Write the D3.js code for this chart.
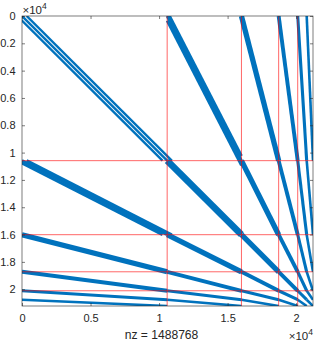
<!DOCTYPE html>
<html>
<head>
<meta charset="utf-8">
<script src="https://cdn.jsdelivr.net/npm/d3@7"></script>
<style>
  body { margin: 0; background: #fff; }
  svg { display: block; }
  text { font-family: 'Liberation Sans', Arial, Helvetica, sans-serif; fill: #262626; }
</style>
</head>
<body>
<svg width="314" height="341"></svg>
<script>
// block partition of the matrix (row/column index where each block starts), last = n
const blockEdges = [0, 10590, 16010, 18725, 20115, 20770, 21230];
// red separators drawn over the pattern
const partitionLines = [10590, 16010, 18725, 20115];
// side bands of the fine block, as index offsets from the stretched diagonal
const bandOffsets = [-340, 0, 340];
const xTicks = [0, 5000, 10000, 15000, 20000];
const xTickLabels = ['0', '0.5', '1', '1.5', '2'];
const yTicks = [0, 2000, 4000, 6000, 8000, 10000, 12000, 14000, 16000, 18000, 20000];
const yTickLabels = ['0', '0.2', '0.4', '0.6', '0.8', '1', '1.2', '1.4', '1.6', '1.8', '2'];
const nz = 1488768;

const svg = d3.select('svg');
const n = blockEdges[blockEdges.length - 1];

const x = d3.scaleLinear().domain([0, n]).range([22, 313]);
const y = d3.scaleLinear().domain([0, n]).range([16, 306]);

// band thickness (px) by coarsest level touched
const levelWidth = [2.4, 6.6, 5.3, 3.9, 3.1, 2.6];

svg.append('clipPath').attr('id', 'plot')
  .append('rect')
    .attr('x', x(0)).attr('y', y(0))
    .attr('width', x(n) - x(0)).attr('height', y(n) - y(0));

const segs = [];
for (let i = 0; i < blockEdges.length - 1; i++) {
  for (let j = 0; j < blockEdges.length - 1; j++) {
    const r0 = blockEdges[i], r1 = blockEdges[i + 1];
    const c0 = blockEdges[j], c1 = blockEdges[j + 1];
    if (i === 0 && j === 0) {
      bandOffsets.forEach(d => segs.push({ c0: c0 + d, r0, c1: c1 + d, r1, w: 2.4 }));
    } else if (i === 1 && j === 0) {
      // shift along columns
      bandOffsets.forEach(d => segs.push({ c0: c0 + d, r0, c1: c1 + d, r1, w: 2.9 }));
    } else if (i === 0 && j === 1) {
      // shift along rows
      bandOffsets.forEach(d => segs.push({ c0, r0: r0 + d, c1, r1: r1 + d, w: 2.9 }));
    } else {
      segs.push({ c0, r0, c1, r1, w: levelWidth[Math.max(i, j)] });
    }
  }
}

const pattern = svg.append('g')
    .attr('clip-path', 'url(#plot)');

pattern.selectAll('line')
  .data(segs)
  .enter().append('line')
    .attr('x1', d => x(d.c0))
    .attr('y1', d => y(d.r0))
    .attr('x2', d => x(d.c1))
    .attr('y2', d => y(d.r1))
    .attr('stroke', '#0072bd')
    .attr('stroke-width', d => d.w);

const sep = svg.append('g')
    .attr('clip-path', 'url(#plot)')
    .attr('stroke', '#ff0000')
    .attr('stroke-opacity', 0.6)
    .attr('stroke-width', 1);

sep.selectAll('.v')
  .data(partitionLines)
  .enter().append('line')
    .attr('class', 'v')
    .attr('x1', d => x(d)).attr('x2', d => x(d))
    .attr('y1', y(0)).attr('y2', y(n));

sep.selectAll('.h')
  .data(partitionLines)
  .enter().append('line')
    .attr('class', 'h')
    .attr('y1', d => y(d)).attr('y2', d => y(d))
    .attr('x1', x(0)).attr('x2', x(n));

// axes, ticks pointing inward on all four sides
const tick = 3;
const styleAxis = g => {
  g.select('.domain').remove();
  g.selectAll('.tick line').attr('stroke', '#262626').attr('stroke-width', 0.6);
  g.selectAll('.tick text').style('font-size', '11px').attr('fill', '#262626');
};

svg.append('g')
    .attr('transform', `translate(0,${y(n)})`)
    .call(d3.axisBottom(x).tickValues(xTicks)
      .tickFormat((d, i) => xTickLabels[i]).tickSize(-tick).tickPadding(8))
    .call(styleAxis);

svg.append('g')
    .attr('transform', `translate(0,${y(0)})`)
    .call(d3.axisTop(x).tickValues(xTicks).tickFormat('').tickSize(-tick))
    .call(styleAxis);

svg.append('g')
    .attr('transform', `translate(${x(0)},0)`)
    .call(d3.axisLeft(y).tickValues(yTicks)
      .tickFormat((d, i) => yTickLabels[i]).tickSize(-tick).tickPadding(6.5))
    .call(styleAxis);

svg.append('g')
    .attr('transform', `translate(${x(n)},0)`)
    .call(d3.axisRight(y).tickValues(yTicks).tickFormat('').tickSize(-tick))
    .call(styleAxis);

svg.append('rect')
    .attr('x', x(0)).attr('y', y(0))
    .attr('width', x(n) - x(0)).attr('height', y(n) - y(0))
    .attr('fill', 'none')
    .attr('stroke', '#262626')
    .attr('stroke-width', 0.6);

// exponent labels
const expLabel = (tx, ty, anchor) => {
  const t = svg.append('text')
      .attr('x', tx).attr('y', ty)
      .attr('text-anchor', anchor)
      .style('font-size', '11.5px');
  t.append('tspan').text('\u00d710');
  t.append('tspan').attr('dy', -5).style('font-size', '8.5px').text('4');
};
expLabel(x(0) + 0.5, 14, 'start');
expLabel(x(n), 339.5, 'end');

svg.append('text')
    .attr('x', (x(0) + x(n)) / 2 - 6)
    .attr('y', 338.5)
    .attr('text-anchor', 'middle')
    .style('font-size', '12.1px')
    .text(`nz = ${nz}`);
</script>
</body>
</html>
